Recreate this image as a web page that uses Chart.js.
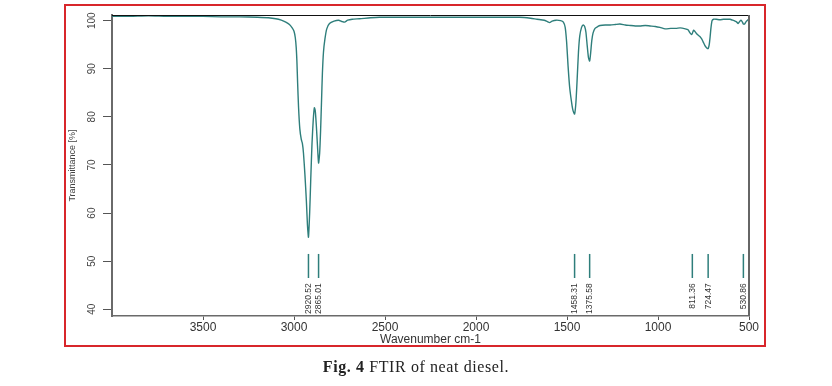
<!DOCTYPE html>
<html><head><meta charset="utf-8">
<script src="https://cdn.jsdelivr.net/npm/chart.js@4/dist/chart.umd.min.js"></script>
<style>
html,body{margin:0;padding:0;background:#fff;}
#wrap{position:relative;width:832px;height:386px;overflow:hidden;background:#fff;}
#frame{position:absolute;left:64px;top:4px;width:702px;height:343px;border:2px solid #d8262b;box-sizing:border-box;}
#c{position:absolute;left:0;top:0;}
#cap{position:absolute;left:0;width:832px;top:357px;text-align:center;font-family:"Liberation Serif",serif;font-size:16px;letter-spacing:0.6px;color:#222;line-height:20px;}
</style></head>
<body>
<div id="wrap">
<div id="frame"></div>
<canvas id="c" width="832" height="386"></canvas>
<div id="cap"><b>Fig. 4</b> FTIR of neat diesel.</div>
</div>
<script>
const wavenumbers = [4000,3900,3800,3700,3600,3500,3400,3300,3200,3140,3100,3070,3045,3025,3010,3000,2993,2988,2984,2980,2975,2968,2960,2954,2948,2940,2932,2926,2920.5,2914,2908,2901,2894,2888,2883,2877,2871,2865,2859,2854,2849,2844,2838,2830,2820,2805,2780,2755,2735,2722,2705,2680,2640,2580,2530,2400,2200,2000,1850,1760,1700,1665,1625,1608,1595,1582,1560,1535,1520,1510,1502,1494,1485,1472,1466,1458.3,1451,1444,1437,1430,1420,1411,1403,1396,1389,1382,1375.6,1370,1364,1357,1346,1330,1318,1290,1263,1235,1209,1180,1154,1125,1099,1070,1044,1015,989,961,930,900,878,850,835,823,816,811,805,798,790,780,770,760,752,742,734,728,724.5,719,714,709,703,695,680,660,640,620,604,590,577,567,560,552,544,536,530.9,524,516,508,500];
const transmittance = [100.9,100.9,101.0,100.9,100.9,100.9,100.8,100.8,100.7,100.6,100.4,100.1,99.7,99.2,98.5,97.8,96.5,94.5,91.5,87,82,77.5,75.3,74.5,72.5,68,62.5,57.5,55.0,60,67,74.5,79.5,81.9,81.2,78,74,70.4,72.5,77,83,89,93.5,96.2,98.3,99.4,99.9,100.1,99.8,99.7,100.1,100.3,100.4,100.6,100.7,100.7,100.7,100.7,100.7,100.7,100.5,100.3,100.1,99.8,99.6,99.9,100.1,100.0,99.7,98.6,95.5,90.5,86,82.3,81.2,80.6,83,88,93.5,96.8,98.6,99.1,98.8,97.6,94.8,92.3,91.6,93.3,95.8,97.4,98.4,98.8,99.0,99.1,99.1,99.2,99.3,99.1,99.0,98.9,98.9,99.0,98.9,98.8,98.6,98.3,98.4,98.4,98.5,98.3,98.1,97.4,97.1,97.4,98.0,97.8,97.4,97.0,96.7,96.2,95.6,94.8,94.4,94.2,94.2,94.9,96.5,98.5,100.0,100.3,100.3,100.2,100.3,100.3,100.3,100.1,99.9,99.7,99.4,99.8,100.1,99.7,99.3,99.3,99.8,100.1,100.3];
const xTicks = [3500,3000,2500,2000,1500,1000,500];
const yTicks = [40,50,60,70,80,90,100];
const peakWavenumbers = [2920.52,2865.01,1458.31,1375.58,811.36,724.47,530.86];
const peakLabels = ["2920.52","2865.01","1458.31","1375.58","811.36","724.47","530.86"];

const LINE = '#2e7e7b';
const FONT = '"Liberation Sans", Arial, sans-serif';

const framePlugin = {
  id: 'frameLines',
  afterDatasetsDraw(chart) {
    const {ctx, chartArea: a} = chart;
    ctx.save();
    ctx.strokeStyle = '#111'; ctx.lineWidth = 1;
    ctx.beginPath(); ctx.moveTo(a.left, a.top + 0.5); ctx.lineTo(a.right, a.top + 0.5); ctx.stroke();
    ctx.strokeStyle = '#666'; ctx.lineWidth = 2;
    ctx.beginPath(); ctx.moveTo(a.right, a.top); ctx.lineTo(a.right, a.bottom); ctx.stroke();
    ctx.restore();
  }
};

const peakPlugin = {
  id: 'peaks',
  afterDatasetsDraw(chart) {
    const {ctx, scales: {x, y}} = chart;
    const yTop = y.getPixelForValue(51.5), yBot = y.getPixelForValue(46.5), yText = y.getPixelForValue(45.4);
    ctx.save();
    peakWavenumbers.forEach((w, i) => {
      const px = x.getPixelForValue(w);
      ctx.strokeStyle = LINE; ctx.lineWidth = 1.5;
      ctx.beginPath(); ctx.moveTo(px, yTop); ctx.lineTo(px, yBot); ctx.stroke();
      ctx.save();
      ctx.translate(px + 0.5, yText);
      ctx.rotate(-Math.PI / 2);
      ctx.textAlign = 'right'; ctx.textBaseline = 'middle';
      ctx.fillStyle = '#333'; ctx.font = '8.5px ' + FONT;
      ctx.fillText(peakLabels[i], 0, 0);
      ctx.restore();
    });
    ctx.restore();
  }
};

new Chart(document.getElementById('c'), {
  type: 'line',
  data: {
    datasets: [{
      data: wavenumbers.map((w, i) => ({x: w, y: transmittance[i]})),
      borderColor: LINE,
      borderWidth: 1.4,
      pointRadius: 0,
      tension: 0.2,
      fill: false
    }]
  },
  options: {
    responsive: false,
    devicePixelRatio: 1,
    animation: false,
    layout: {padding: {left: 50, right: 83, top: 15, bottom: 38}},
    plugins: {legend: {display: false}, tooltip: {enabled: false}},
    scales: {
      x: {
        type: 'linear', reverse: true, min: 500, max: 4000,
        afterBuildTicks: s => { s.ticks = xTicks.map(v => ({value: v})); },
        afterFit: s => { s.height = 32; },
        grid: {drawOnChartArea: false, drawTicks: true, tickLength: 4, color: '#555', lineWidth: 1},
        border: {display: true, color: '#6a6a6a', width: 1.5},
        ticks: {font: {family: FONT, size: 12}, color: '#333', padding: 0, maxRotation: 0, autoSkip: false, callback: v => String(v)},
        title: {display: true, text: 'Wavenumber cm-1', font: {family: FONT, size: 12}, color: '#333', padding: {top: 0, bottom: 0.8}}
      },
      y: {
        type: 'linear', min: 38.6, max: 101.18,
        afterBuildTicks: s => { s.ticks = yTicks.map(v => ({value: v})); },
        afterFit: s => { s.width = 62; },
        grid: {drawOnChartArea: false, drawTicks: true, tickLength: 9, color: '#555', lineWidth: 1},
        border: {display: true, color: '#6a6a6a', width: 2},
        ticks: {font: {family: FONT, size: 10}, color: '#444', minRotation: 90, maxRotation: 90, crossAlign: 'center', padding: 2.5, autoSkip: false, callback: v => String(v)},
        title: {display: true, text: 'Transmittance [%]', font: {family: FONT, size: 9}, color: '#444', padding: {top: 17, bottom: 0}}
      }
    }
  },
  plugins: [framePlugin, peakPlugin]
});
</script>
</body></html>
